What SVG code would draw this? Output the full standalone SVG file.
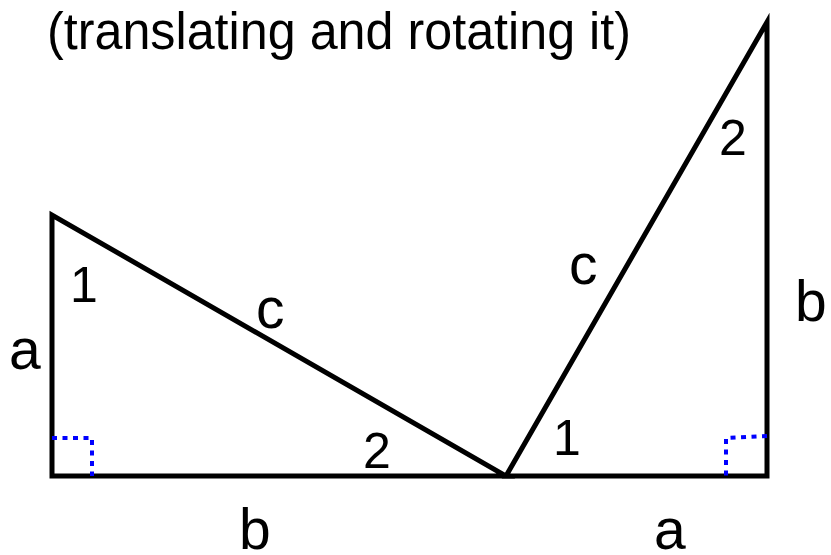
<svg xmlns="http://www.w3.org/2000/svg" width="831" height="555" viewBox="0 0 831 555">
<style>
.edge{fill:none;stroke:#000;stroke-width:5;stroke-linejoin:miter;stroke-miterlimit:10}
.right{fill:none;stroke:#0000ff;stroke-width:4;stroke-dasharray:5 5.5}
.lbl{font-family:"Liberation Sans",Arial,sans-serif;font-size:57px;fill:#000}
.num{font-family:"Liberation Sans",Arial,sans-serif;font-size:50px;fill:#000}
.title{font-family:"Liberation Sans",Arial,sans-serif;font-size:51px;fill:#000}
</style>
<rect width="831" height="555" fill="#fff"/>
<text class="title" x="47" y="49" textLength="584" lengthAdjust="spacingAndGlyphs">(translating and rotating it)</text>
<g id="triangle-left">
<polygon class="edge" points="52,215 52,476 506,476"/>
<path class="right" d="M52,438 H92 V476"/>
<text class="lbl" x="9" y="369">a</text>
<text class="lbl" x="256" y="328">c</text>
<text class="lbl" x="239" y="549">b</text>
<text class="num" x="70" y="302">1</text>
<text class="num" x="363" y="468">2</text>
</g>
<g id="triangle-right">
<polygon class="edge" points="506,476 767,476 767,22"/>
<path class="right" d="M767,436 L726,438 V476"/>
<text class="lbl" x="569" y="284">c</text>
<text class="lbl" x="795" y="321">b</text>
<text class="lbl" x="654" y="549">a</text>
<text class="num" x="553" y="455">1</text>
<text class="num" x="719" y="155">2</text>
</g>
</svg>
